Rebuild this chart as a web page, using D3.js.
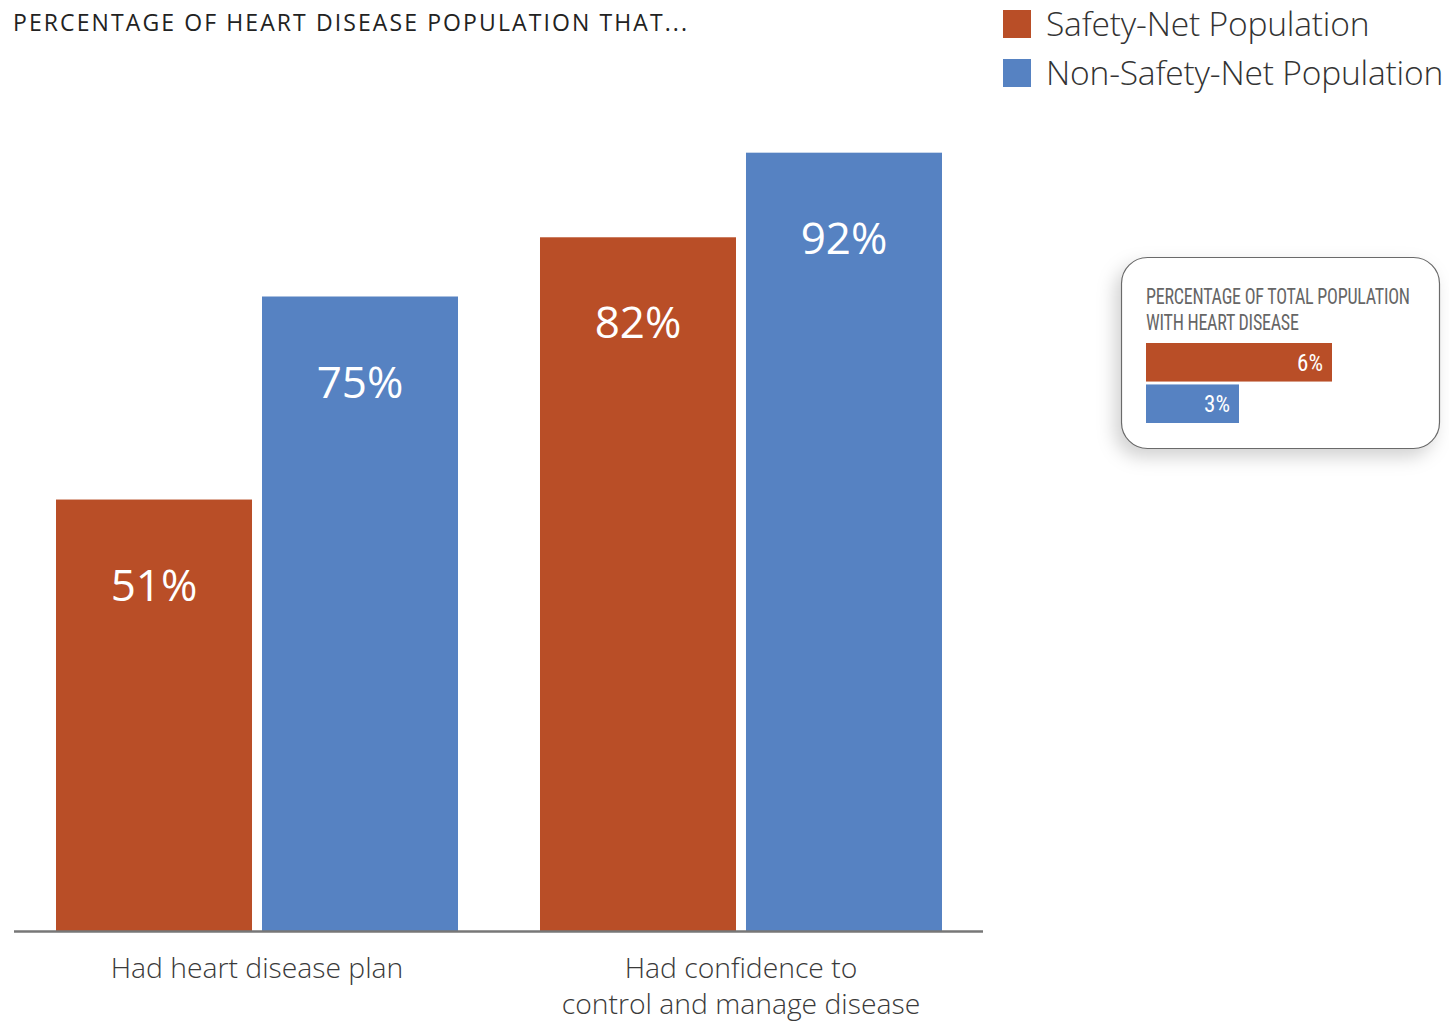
<!DOCTYPE html>
<html>
<head>
<meta charset="utf-8">
<script src="https://cdn.jsdelivr.net/npm/d3@7"></script>
<style>
  html, body { margin: 0; padding: 0; background: #fff; }
  svg { display: block; }
  text { font-family: "Open Sans", "Noto Sans", sans-serif; }
  .narrow { font-family: "Liberation Sans Narrow", "Roboto Condensed", "DejaVu Sans Condensed", sans-serif; }
</style>
</head>
<body>
<svg id="chart" width="1449" height="1022"></svg>
<script>
// Main comparison: share of heart disease population
const categories = [["Had heart disease plan"], ["Had confidence to", "control and manage disease"]];
const seriesNames = ["Safety-Net Population", "Non-Safety-Net Population"];
const safetyNet = [51, 82];
const nonSafetyNet = [75, 92];

// Inset: share of total population with heart disease
const insetTitle = ["PERCENTAGE OF TOTAL POPULATION", "WITH HEART DISEASE"];
const insetValues = [6, 3];

const colors = ["#B94E27", "#5682C2"];

const svg = d3.select("#chart");

// Title
svg.append("text")
  .attr("x", 13).attr("y", 31)
  .attr("font-size", 23).attr("letter-spacing", 2.1)
  .attr("fill", "#222")
  .text("PERCENTAGE OF HEART DISEASE POPULATION THAT...");

// Scales
const baseY = 931;
const y = d3.scaleLinear().domain([0, 100]).range([baseY, 85]);
const x0 = d3.scaleBand().domain(d3.range(categories.length)).range([56, 942]).paddingInner(0.1694).paddingOuter(0);
const x1 = d3.scaleBand().domain([0, 1]).range([0, x0.bandwidth()]).paddingInner(0.0485);

const data = categories.map((c, i) => ({ i, vals: [safetyNet[i], nonSafetyNet[i]] }));

const groups = svg.append("g").selectAll("g").data(data).join("g")
  .attr("transform", d => `translate(${x0(d.i)},0)`);

groups.selectAll("rect").data(d => d.vals).join("rect")
  .attr("x", (v, j) => x1(j))
  .attr("y", v => y(v))
  .attr("width", x1.bandwidth())
  .attr("height", v => baseY - y(v))
  .attr("fill", (v, j) => colors[j]);

groups.selectAll("text.val").data(d => d.vals).join("text")
  .attr("class", "val")
  .attr("x", (v, j) => x1(j) + x1.bandwidth() / 2)
  .attr("y", v => y(v) + 101)
  .attr("text-anchor", "middle")
  .attr("font-size", 44)
  .attr("fill", "#fff")
  .text(v => v + "%");

// Baseline
svg.append("line")
  .attr("x1", 14).attr("x2", 983)
  .attr("y1", baseY + 0.5).attr("y2", baseY + 0.5)
  .attr("stroke", "#777").attr("stroke-width", 2.5);

// Category labels
svg.append("g").selectAll("text").data(data).join("text")
  .attr("x", d => x0(d.i) + x0.bandwidth() / 2)
  .attr("y", 978)
  .attr("text-anchor", "middle")
  .attr("font-size", 28.3)
  .attr("font-weight", 300)
  .attr("fill", "#3a3a3a")
  .each(function(d) {
    d3.select(this).selectAll("tspan").data(categories[d.i]).join("tspan")
      .attr("x", x0(d.i) + x0.bandwidth() / 2)
      .attr("dy", (t, k) => k === 0 ? 0 : 36)
      .text(t => t);
  });

// Legend
const legend = svg.append("g").selectAll("g").data(seriesNames).join("g")
  .attr("transform", (d, i) => `translate(1003,${10 + i * 49})`);
legend.append("rect").attr("width", 28).attr("height", 28).attr("fill", (d, i) => colors[i]);
legend.append("text")
  .attr("x", 43).attr("y", 26)
  .attr("font-size", 33.6).attr("font-weight", 300)
  .attr("letter-spacing", -0.2)
  .attr("fill", "#333")
  .text(d => d);

// Inset panel
const defs = svg.append("defs");
const f = defs.append("filter").attr("id", "shadow").attr("x", "-20%").attr("y", "-20%").attr("width", "150%").attr("height", "160%");
f.append("feDropShadow").attr("dx", -6).attr("dy", 8).attr("stdDeviation", 9).attr("flood-color", "#000").attr("flood-opacity", 0.18);

svg.append("rect")
  .attr("x", 1121.5).attr("y", 257.5).attr("width", 318).attr("height", 191)
  .attr("rx", 26).attr("ry", 26)
  .attr("fill", "#fff").attr("stroke", "#6a6a6a").attr("stroke-width", 1.2)
  .attr("filter", "url(#shadow)");

// Condensed heading: narrow face squeezed horizontally
svg.append("text").attr("class", "narrow")
  .attr("transform", "translate(1146,304) scale(0.82,1)")
  .attr("font-size", 22).attr("letter-spacing", -0.3).attr("fill", "#666")
  .selectAll("tspan").data(insetTitle).join("tspan")
  .attr("x", 0).attr("dy", (t, k) => k === 0 ? 0 : 26)
  .text(t => t);

const xi = d3.scaleLinear().domain([0, 6]).range([1146, 1332]);
const yi = d3.scaleBand().domain([0, 1]).range([343, 423]).paddingInner(0.07);

svg.append("g").selectAll("rect").data(insetValues).join("rect")
  .attr("x", xi(0)).attr("y", (v, i) => yi(i))
  .attr("width", v => xi(v) - xi(0)).attr("height", yi.bandwidth())
  .attr("fill", (v, i) => colors[i]);

svg.append("g").selectAll("text").data(insetValues).join("text")
  .attr("class", "narrow")
  .attr("x", v => xi(v) - 9)
  .attr("y", (v, i) => yi(i) + yi.bandwidth() / 2 + 8.5)
  .attr("text-anchor", "end")
  .attr("font-size", 23).attr("fill", "#fff")
  .text(v => v + "%");
</script>
</body>
</html>
